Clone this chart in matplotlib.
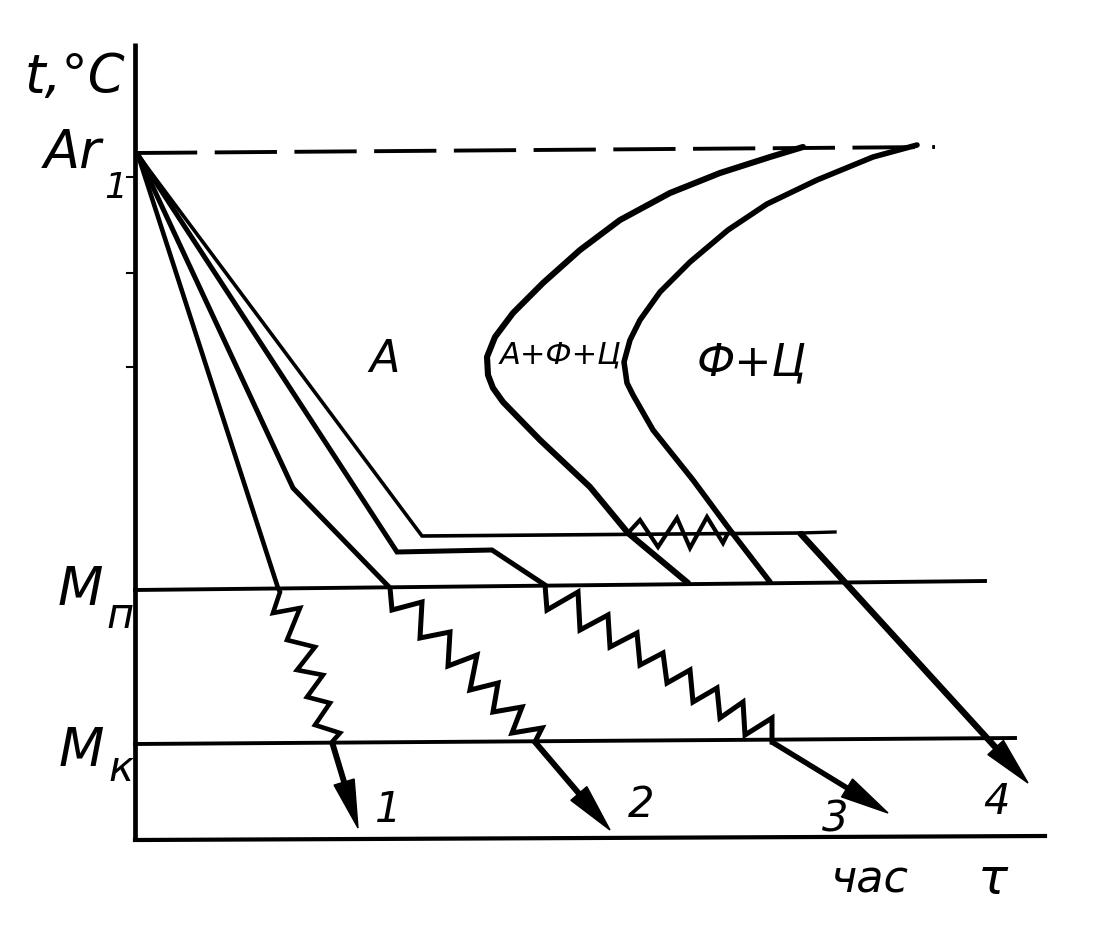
import numpy as np
import matplotlib
matplotlib.use("Agg")
import matplotlib.pyplot as plt

# schematic units: tau to the right, t upwards (origin at the axes corner)
AR1, MN, MK = 687, 251, 96

# cooling curves: (tau, t) break points, last point = arrow tip
curve1_tau = [3, 143, 145, 138, 165, 152, 180, 162, 188, 172, 195, 180, 205, 197]
curve1_t = [685, 252, 248, 227, 232, 200, 193, 170, 165, 143, 137, 115, 107, 98]
curve1_tip = (223, 12)

curve2_tau = [3, 158, 255, 257, 287, 285, 315, 313, 342, 335, 363, 358, 387, 377, 407, 400]
curve2_t = [685, 352, 252, 230, 238, 202, 208, 174, 185, 150, 157, 128, 133, 107, 112, 98]
curve2_tip = (475, 10)

curve3_tau = [3, 262, 357, 410, 412, 443, 445, 473, 475, 502, 505, 528, 532, 555,
              558, 582, 585, 608, 610, 637, 637]
curve3_t = [685, 288, 290, 255, 230, 248, 210, 225, 193, 207, 175, 187, 157, 170,
            138, 152, 122, 138, 105, 122, 98]
curve3_tip = (753, 27)

curve4_tau = [3, 287, 665]
curve4_t = [685, 304, 307]
curve4_tip = (893, 57)
plateau_end = (700, 308)

# transformation on the plateau of curve 4
pearl_tau = [493, 505, 523, 542, 555, 572, 588, 592]
pearl_t = [307, 320, 293, 322, 292, 323, 297, 305]

# C-curves (start and end of transformation)
start_tau = [668, 635, 585, 535, 485, 445, 408, 378, 360, 352, 353, 358, 368,
             405, 455, 493, 553]
start_t = [693, 683, 667, 647, 620, 590, 557, 527, 503, 483, 465, 452, 438,
           400, 353, 307, 257]
end_tau = [782, 738, 682, 632, 593, 555, 525, 505, 495, 489, 492, 498, 518,
           558, 595, 635]
end_t = [695, 683, 660, 636, 610, 578, 548, 520, 500, 478, 457, 445, 410,
         360, 310, 258]

tick_levels = [663, 567, 473]

fig = plt.figure(figsize=(10.94, 9.27), dpi=100)
ax = fig.add_axes([0, 0, 1, 1])
ax.set_xlim(-135, 959)
ax.set_ylim(-87, 840)
ax.axis('off')

k = 'black'
# axes
ax.plot([0, 0], [0, 797], color=k, lw=3.4, solid_capstyle='butt')
ax.plot([0, 910], [0, 4], color=k, lw=3.0)
for lv in tick_levels:
    ax.plot([-8, 0], [lv, lv], color=k, lw=1.5)

# Ar1 dashed, Mn, Mk levels
ax.plot([0, 800], [AR1, AR1 + 6], color=k, lw=2.8, linestyle=(0, (16, 4.5)))
ax.plot([0, 850], [MN - 1, MN + 8], color=k, lw=2.8)
ax.plot([0, 880], [MK, MK + 6], color=k, lw=2.8)

# C-curves
ax.plot(start_tau, start_t, color=k, lw=4.4, solid_joinstyle='round',
        solid_capstyle='round')
ax.plot(end_tau, end_t, color=k, lw=4.0, solid_joinstyle='round',
        solid_capstyle='round')

# cooling curves
def arrow(p0, tip, lw):
    ax.arrow(p0[0], p0[1], tip[0] - p0[0], tip[1] - p0[1], width=lw,
             head_width=21, head_length=48, length_includes_head=True,
             fc=k, ec=k, lw=1)

ax.plot(curve1_tau, curve1_t, color=k, lw=3.3, solid_joinstyle='miter')
arrow((curve1_tau[-1], curve1_t[-1]), curve1_tip, 4.5)
ax.plot(curve2_tau, curve2_t, color=k, lw=3.6, solid_joinstyle='miter')
arrow((curve2_tau[-1], curve2_t[-1]), curve2_tip, 4.5)
ax.plot(curve3_tau, curve3_t, color=k, lw=3.6, solid_joinstyle='miter')
arrow((curve3_tau[-1], curve3_t[-1]), curve3_tip, 4.0)
ax.plot(curve4_tau, curve4_t, color=k, lw=2.6)
ax.plot([curve4_tau[-1], plateau_end[0]], [curve4_t[-1], plateau_end[1]], color=k, lw=2.4)
arrow((curve4_tau[-1], curve4_t[-1]), curve4_tip, 5.0)
ax.plot(pearl_tau, pearl_t, color=k, lw=3.0, solid_joinstyle='miter')

# labels
fs = dict(color=k, style='italic', family='DejaVu Sans', ha='center', va='center')
ax.text(-60, 763, 't,°C', fontsize=38, **fs)
ax.text(-62, 687, 'Ar', fontsize=38, **fs)
ax.text(-19, 652, '1', fontsize=26, **fs)
ax.text(-55, 250, 'M', fontsize=38, **fs)
ax.text(-15, 224, 'п', fontsize=30, **fs)
ax.text(-54, 89, 'M', fontsize=38, **fs)
ax.text(-14, 71, 'к', fontsize=30, **fs)
ax.text(250, 480, 'A', fontsize=32, **fs)
ax.text(425, 485, 'А+Ф+Ц', fontsize=22, **fs)
ax.text(617, 477, 'Ф+Ц', fontsize=32, **fs)
ax.text(253, 30, '1', fontsize=30, **fs)
ax.text(506, 35, '2', fontsize=30, **fs)
ax.text(700, 20, '3', fontsize=30, **fs)
ax.text(861, 38, '4', fontsize=30, **fs)
ax.text(735, -40, 'час', fontsize=32, **fs)
ax.text(858, -40, 'τ', fontsize=36, **fs)

fig.savefig('out.png', dpi=100)
